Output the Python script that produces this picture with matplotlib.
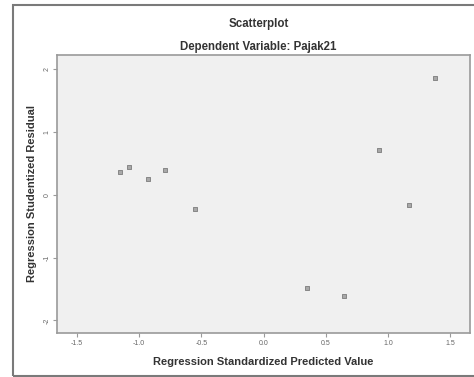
import matplotlib.pyplot as plt
from matplotlib.patches import Rectangle

# values
predicted = [-1.15, -1.08, -0.93, -0.79, -0.55, 0.35, 0.65, 0.93, 1.17, 1.38]
residual = [0.36, 0.45, 0.26, 0.40, -0.22, -1.49, -1.61, 0.71, -0.16, 1.86]

x_ticks = [-1.5, -1.0, -0.5, 0.0, 0.5, 1.0, 1.5]
y_ticks = [-2, -1, 0, 1, 2]

plt.rcParams['font.family'] = ['Liberation Sans', 'DejaVu Sans']

fig = plt.figure(figsize=(4.74, 3.77), dpi=100, facecolor='white')

# outer chart frame (right side runs off the image)
fig.patches.append(Rectangle((13 / 474, 1 / 377), 1.2, 371 / 377, transform=fig.transFigure,
                             fill=False, edgecolor='#7a7a7a', lw=1.5))

ax = fig.add_axes([57 / 474, 1 - 333 / 377, 413 / 474, 278 / 377])
ax.set_facecolor('#f0f0f0')
for s in ax.spines.values():
    s.set_color('#9a9a9a')
    s.set_linewidth(1.2)

ax.scatter(predicted, residual, marker='s', s=10, facecolor='#a8a8a8',
           edgecolor='#7c7c7c', linewidths=0.6, zorder=3)

ax.set_xlim(-1.66, 1.66)
ax.set_ylim(-2.2, 2.23)
ax.set_xticks(x_ticks)
ax.set_xticklabels(['%.1f' % v for v in x_ticks])
ax.set_yticks(y_ticks)
ax.set_yticklabels([str(v) for v in y_ticks], rotation=90, va='center')
ax.tick_params(length=3, width=0.8, color='#9a9a9a', labelsize=5, labelcolor='#666666', pad=2)
ax.tick_params(axis='y', pad=1.5)

ax.set_xlabel('Regression Standardized Predicted Value', fontsize=8, fontweight='bold',
              color='#333333', labelpad=7)
ax.set_ylabel('Regression Studentized Residual', fontsize=8, fontweight='bold',
              color='#333333', labelpad=5)

fig.text(0.545, 1 - 24 / 377, 'Scatterplot', ha='center', va='center', fontsize=8.3,
         fontweight='bold', color='#333333')
fig.text(0.545, 1 - 47 / 377, 'Dependent Variable: Pajak21', ha='center', va='center',
         fontsize=8.3, fontweight='bold', color='#333333')

fig.savefig('out.png', dpi=100, facecolor='white')
